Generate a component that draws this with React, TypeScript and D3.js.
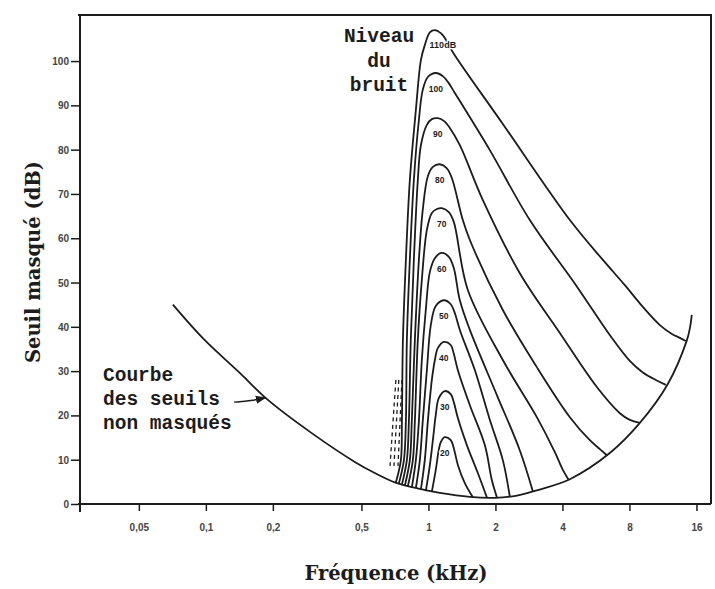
import React, { useEffect, useRef } from "react";
import * as d3 from "d3";

// [fréquence kHz, seuil dB]
type Pt = [number, number];

// Courbe des seuils non masqués
const seuilAbsolu: Pt[] = [
  [0.0711, 45.0], [0.0979, 37.2], [0.142, 29.6], [0.19, 23.5], [0.299, 16.0],
  [0.467, 9.5], [0.574, 7.0], [0.706, 4.9], [0.915, 3.4], [1.125, 2.5],
  [1.535, 1.6], [1.99, 1.4], [2.5, 1.9], [3.07, 3.1], [4.32, 5.6],
  [6.53, 11.5], [8.91, 18.3], [11.9, 27.1], [14.5, 37.0], [14.95, 39.7], [15.25, 42.7],
];

// Courbes de seuil masqué, une par niveau du bruit
const masque110: Pt[] = [
  [0.714, 4.9], [0.752, 9.9], [0.76, 18.7], [0.768, 37.0], [0.792, 55.1], [0.825, 73.1],
  [0.878, 88.9], [0.925, 100.2], [0.963, 103.6], [1.015, 106.5], [1.069, 107.0],
  [1.137, 106.3], [1.185, 105.2], [1.287, 102.0], [2.159, 85.8], [4.32, 64.1],
  [6.08, 55.1], [7.63, 49.4], [9.19, 44.5], [10.96, 40.4], [12.41, 38.4], [13.47, 37.5], [14.34, 36.8],
];
const masque100: Pt[] = [
  [0.736, 4.6], [0.776, 9.9], [0.792, 18.7], [0.8, 37.0], [0.825, 55.1], [0.86, 73.1],
  [0.906, 86.7], [0.943, 93.5], [0.994, 96.4], [1.079, 97.3], [1.16, 96.6], [1.223, 95.3],
  [1.314, 92.8], [1.887, 79.9], [2.854, 64.1], [4.6, 49.4], [6.6, 37.8], [8.03, 32.3],
  [9.19, 29.7], [10.51, 28.0], [11.66, 26.9],
];
const masque90: Pt[] = [
  [0.76, 4.4], [0.8, 9.9], [0.817, 18.7], [0.833, 37.0], [0.86, 55.1], [0.896, 73.1],
  [0.925, 81.0], [0.984, 85.6], [1.036, 86.9], [1.102, 87.1], [1.173, 86.5], [1.248, 84.9],
  [1.384, 81.0], [1.756, 68.6], [2.574, 52.1], [3.894, 38.6], [5.709, 26.4], [7.244, 20.5],
  [8.03, 19.0], [8.91, 18.3],
];
const masque80: Pt[] = [
  [0.784, 4.2], [0.825, 9.9], [0.842, 18.7], [0.869, 37.0], [0.906, 55.1], [0.943, 66.4],
  [0.994, 74.0], [1.047, 76.1], [1.125, 76.7], [1.21, 75.8], [1.274, 73.6], [1.427, 64.1],
  [1.535, 59.6], [2.159, 43.8], [3.069, 30.9], [4.32, 19.6], [5.31, 14.4], [5.89, 12.4], [6.33, 11.0],
];
const masque70: Pt[] = [
  [0.808, 4.0], [0.851, 9.9], [0.869, 18.7], [0.896, 37.0], [0.934, 50.6], [0.984, 61.9],
  [1.036, 65.7], [1.091, 66.6], [1.149, 66.8], [1.235, 65.9], [1.3, 63.7], [1.503, 48.3],
  [2.159, 32.5], [3.069, 19.6], [3.698, 11.7], [4.017, 7.7], [4.27, 5.4],
];
const masque60: Pt[] = [
  [0.842, 3.7], [0.878, 9.9], [0.906, 18.7], [0.934, 32.5], [0.973, 43.8], [1.015, 52.4],
  [1.069, 55.5], [1.149, 56.7], [1.235, 55.8], [1.3, 53.3], [1.384, 46.0], [1.535, 39.3],
  [2.03, 24.6], [2.57, 12.2], [2.944, 2.9],
];
const masque50: Pt[] = [
  [0.878, 3.6], [0.915, 9.9], [0.943, 18.7], [0.984, 30.2], [1.025, 40.4], [1.079, 44.7],
  [1.173, 46.0], [1.26, 45.1], [1.314, 43.1], [1.384, 39.3], [1.617, 30.2], [1.887, 19.0],
  [2.159, 9.9], [2.32, 1.7],
];
const masque40: Pt[] = [
  [0.925, 3.3], [0.963, 9.9], [0.994, 18.7], [1.036, 28.0], [1.069, 32.5], [1.102, 35.2],
  [1.173, 36.6], [1.26, 35.9], [1.3, 33.9], [1.356, 30.2], [1.535, 22.3], [1.792, 13.3],
  [1.927, 5.4], [2.03, 1.5],
];
const masque30: Pt[] = [
  [0.973, 2.9], [1.015, 8.8], [1.047, 14.4], [1.079, 20.1], [1.113, 23.9], [1.185, 25.5],
  [1.26, 24.8], [1.3, 23.0], [1.356, 19.4], [1.488, 13.3], [1.667, 7.0], [1.83, 1.5],
];
const masque20: Pt[] = [
  [1.036, 2.8], [1.079, 7.7], [1.113, 12.2], [1.137, 14.0], [1.185, 15.1], [1.26, 14.4],
  [1.3, 12.6], [1.356, 8.8], [1.457, 4.7], [1.58, 1.6],
];

const courbes = [masque20, masque30, masque40, masque50, masque60, masque70, masque80, masque90, masque100, masque110];
const etiquettes = ["20", "30", "40", "50", "60", "70", "80", "90", "100", "110dB"];

// prolongements en pointillés (niveaux élevés)
const pointilles: Pt[][] = [
  [[0.714, 28.0], [0.672, 8.6]],
  [[0.736, 28.0], [0.7, 8.6]],
  [[0.76, 28.0], [0.73, 8.6]],
];

const fleche: Pt[] = [[0.134, 23.0], [0.16, 23.3], [0.185, 24.0]];

const xTicks = [0.05, 0.1, 0.2, 0.5, 1, 2, 4, 8, 16];
const xTickLabels = ["0,05", "0,1", "0,2", "0,5", "1", "2", "4", "8", "16"];
const yTicks = [0, 10, 20, 30, 40, 50, 60, 70, 80, 90, 100];

const niveauLignes = ["Niveau", "du", "bruit"];
const courbeLignes = ["Courbe", "des seuils", "non masqués"];

const App: React.FC = () => {
  const svgRef = useRef<SVGSVGElement>(null);

  useEffect(() => {
    const svg = d3.select(svgRef.current);
    svg.selectAll("*").remove();

    const ink = "#1c1c1c";
    const x = d3.scaleLog().domain([0.0272, 18.6]).range([80, 711]);
    const y = d3.scaleLinear().domain([0, 110.4]).range([504, 15]);

    // lissage des courbes
    const line = d3
      .line<Pt>()
      .x((d) => x(d[0]))
      .y((d) => y(d[1]))
      .curve(d3.curveCatmullRom.alpha(0.5));

    // cadre (haut et droite)
    svg.append("path")
      .attr("d", `M${x.range()[0] - 2},${y(110.4)}H${x.range()[1]}V${y(0)}`)
      .attr("fill", "none").attr("stroke", ink).attr("stroke-width", 2);

    // axe des y
    const gy = svg.append("g")
      .attr("transform", `translate(${x.range()[0]},0)`)
      .call(d3.axisLeft(y).tickValues(yTicks).tickSize(9).tickSizeOuter(0).tickPadding(2));
    gy.select(".domain").attr("stroke", ink).attr("stroke-width", 2)
      .attr("d", `M0,${y(110.4)}V${y(0) + 8}`);
    gy.selectAll(".tick line").attr("stroke", ink).attr("stroke-width", 1.5);
    gy.selectAll(".tick text")
      .attr("font-family", "Liberation Sans, Arial, sans-serif")
      .attr("font-weight", "bold")
      .attr("font-size", 10).attr("fill", "#444").attr("dy", "0.35em");

    // axe des x
    const gx = svg.append("g")
      .attr("transform", `translate(0,${y(0)})`)
      .call(
        d3.axisBottom(x).tickValues(xTicks).tickSize(7).tickSizeOuter(0).tickPadding(13)
          .tickFormat((_d, i) => xTickLabels[i])
      );
    gx.select(".domain").attr("stroke", ink).attr("stroke-width", 2)
      .attr("d", `M${x.range()[0] - 2},0H${x.range()[1]}`);
    gx.selectAll(".tick line").attr("stroke", ink).attr("stroke-width", 1.5);
    gx.selectAll(".tick text")
      .attr("font-family", "Liberation Sans, Arial, sans-serif")
      .attr("font-weight", "bold")
      .attr("font-size", 10).attr("fill", "#444");

    // titres des axes
    svg.append("text")
      .attr("x", 396).attr("y", 580)
      .attr("text-anchor", "middle")
      .attr("font-family", "DejaVu Serif, serif")
      .attr("font-weight", "bold")
      .attr("font-size", 19.5).attr("fill", ink)
      .text("Fréquence (kHz)");
    svg.append("text")
      .attr("transform", "translate(40,262) rotate(-90)")
      .attr("text-anchor", "middle")
      .attr("font-family", "DejaVu Serif, serif")
      .attr("font-weight", "bold")
      .attr("font-size", 19.5).attr("fill", ink)
      .text("Seuil masqué (dB)");

    // courbe des seuils non masqués
    svg.append("path").datum(seuilAbsolu)
      .attr("d", line).attr("fill", "none")
      .attr("stroke", ink).attr("stroke-width", 1.8);

    // courbes de masquage
    svg.append("g").selectAll("path").data(courbes).join("path")
      .attr("d", (d) => line(d))
      .attr("fill", "none").attr("stroke", ink).attr("stroke-width", 1.8);

    svg.append("g").selectAll("path").data(pointilles).join("path")
      .attr("d", (d) => d3.line<Pt>().x((p) => x(p[0])).y((p) => y(p[1]))(d))
      .attr("fill", "none").attr("stroke", ink).attr("stroke-width", 1.3)
      .attr("stroke-dasharray", "4 3.5");

    // étiquettes de niveau sous chaque sommet
    svg.append("g").selectAll("text").data(courbes).join("text")
      .attr("x", (d, i) => {
        const p = d3.greatest(d, (q) => q[1]) as Pt;
        return x(p[0]) + (i === 9 ? 8 : 0);
      })
      .attr("y", (d, i) => {
        const p = d3.greatest(d, (q) => q[1]) as Pt;
        return y(p[1]) + (i === 9 ? 18 : 19);
      })
      .attr("text-anchor", "middle")
      .attr("font-family", "Liberation Sans, Arial, sans-serif")
      .attr("font-weight", "bold")
      .attr("font-size", (d, i) => (i === 9 ? 9 : 8.5))
      .attr("fill", ink)
      .attr("stroke", "#fff").attr("stroke-width", 2.5)
      .attr("paint-order", "stroke")
      .text((d, i) => etiquettes[i]);

    // flèche
    svg.append("defs").append("marker")
      .attr("id", "pointe").attr("viewBox", "0 0 10 10")
      .attr("refX", 9).attr("refY", 5)
      .attr("markerWidth", 7).attr("markerHeight", 7)
      .attr("orient", "auto")
      .append("path").attr("d", "M0,1L10,5L0,9z").attr("fill", ink);
    svg.append("path").datum(fleche)
      .attr("d", d3.line<Pt>().x((p) => x(p[0])).y((p) => y(p[1])).curve(d3.curveBasis))
      .attr("fill", "none").attr("stroke", ink).attr("stroke-width", 1.5)
      .attr("marker-end", "url(#pointe)");

    // annotations
    svg.append("text")
      .attr("font-family", "Liberation Mono, monospace")
      .attr("font-weight", "bold").attr("font-size", 19.5).attr("fill", ink)
      .attr("text-anchor", "middle")
      .selectAll("tspan").data(niveauLignes).join("tspan")
      .attr("x", 379).attr("y", (_d, i) => 42 + i * 24.5)
      .text((d) => d);

    svg.append("text")
      .attr("font-family", "Liberation Mono, monospace")
      .attr("font-weight", "bold").attr("font-size", 19.5).attr("fill", ink)
      .selectAll("tspan").data(courbeLignes).join("tspan")
      .attr("x", 103).attr("y", (_d, i) => 381 + i * 24)
      .text((d) => d);
  }, []);

  return (
    <svg
      ref={svgRef}
      width={715}
      height={589}
      style={{ position: "absolute", left: 0, top: 0, background: "#fff" }}
    />
  );
};

export default App;
